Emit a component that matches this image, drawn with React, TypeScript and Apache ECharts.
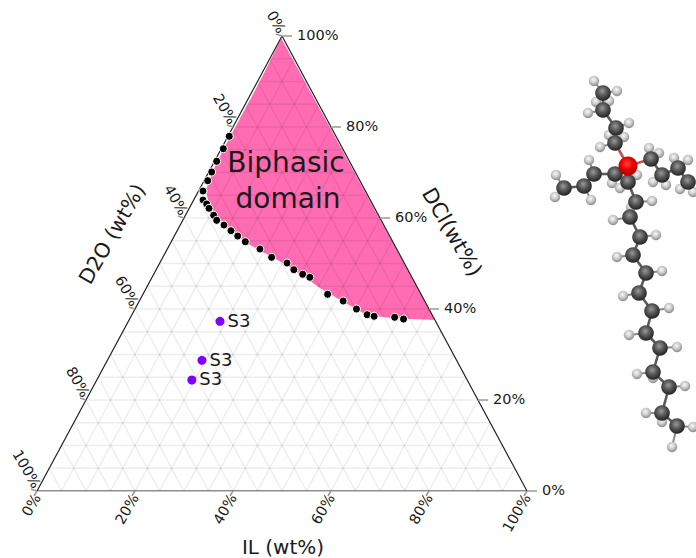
import React, { useEffect, useRef } from "react";
import * as echarts from "echarts";

// all ternary values in wt%: [IL, DCl]; D2O = 100 - IL - DCl
const binodalIL = [0.26, 0.41, 0.44, 0.6, 0.74, 0.91, 1.9, 3.09, 4.04, 5.77, 6.93, 8.93, 10.98, 12.94, 15.12, 18.9, 22.2, 25.97, 28.1, 30.4, 32.2, 37.7, 41.6, 45.2, 48, 49.6, 53.9, 55.9];
const binodalDCl = [77.96, 75.23, 72.46, 70.11, 68.2, 65.93, 63.96, 63.08, 62.13, 60.59, 59.49, 58.46, 57.21, 56.04, 54.79, 53.19, 51.36, 50.11, 48.64, 47.63, 46.97, 43.23, 41.76, 40, 38.75, 38.4, 38.18, 37.8];
const domainIL = [0.1, 0.4, 0.5, 0.5, 0.5, 0.7, 1.4, 3.17, 6.5, 15.6, 26.1, 36.3, 47.9, 53.7, 62.4];
const domainDCl = [99.5, 92.15, 87.03, 80.8, 74.95, 70.55, 66.15, 63.58, 60.29, 54.44, 49.67, 44.18, 38.68, 37.96, 37.58];
const sampleIL = [18.7, 19.3, 19.4];
const sampleDCl = [37.3, 28.73, 24.4];
const sampleNames = ["S3", "S3", "S3"];
const gridLevels = [5, 10, 15, 20, 25, 30, 35, 40, 45, 50, 55, 60, 65, 70, 75, 80, 85, 90, 95];
const tickLevels = [0, 20, 40, 60, 80, 100];

const FONT = "DejaVu Sans";
const INK = "#1a1a1a";
const toXY = (il: number, dcl: number) => [il + dcl / 2, dcl];

// molecule illustration (page pixels)
const C_ATOMS: number[][] = [
  [603, 93], [603, 110], [616, 128], [615, 143], [651, 159], [662, 175], [678, 168], [688, 182],
  [615, 174], [594, 174], [584, 186], [564, 188],
  [628, 182], [636, 202], [630, 217], [640, 237], [633, 255], [646, 273], [639, 293], [652, 311],
  [646, 333], [660, 348], [653, 372], [669, 387], [662, 413], [677, 426],
];
const H_ATOMS: number[][] = [
  [594, 81], [617, 91], [596, 102], [609, 101], [588, 113], [629, 123], [609, 135], [624, 137], [600, 147],
  [649, 148], [659, 153], [674, 158], [688, 160], [653, 182], [666, 185], [680, 189], [693, 192],
  [637, 175], [589, 160], [556, 175], [555, 197], [591, 200], [612, 183], [620, 188],
  [652, 201], [631, 207], [613, 220], [656, 235], [617, 257], [662, 271], [623, 296], [669, 308],
  [629, 335], [677, 347], [637, 374], [653, 378], [685, 386], [646, 413], [662, 422], [693, 427], [672, 447],
];
const P_ATOM = [628, 166];
const CHAINS: number[][][] = [
  [C_ATOMS[0], C_ATOMS[1], C_ATOMS[2], C_ATOMS[3], P_ATOM],
  [P_ATOM, C_ATOMS[4], C_ATOMS[5], C_ATOMS[6], C_ATOMS[7]],
  [P_ATOM, C_ATOMS[8], C_ATOMS[9], C_ATOMS[10], C_ATOMS[11]],
  [P_ATOM, ...C_ATOMS.slice(12)],
];

function moleculeElements() {
  const els: any[] = [];
  const bond = "#5a5a5a";
  H_ATOMS.forEach((h) => {
    let best = C_ATOMS[0];
    let bd = 1e9;
    C_ATOMS.forEach((c) => {
      const d = (c[0] - h[0]) ** 2 + (c[1] - h[1]) ** 2;
      if (d < bd) { bd = d; best = c; }
    });
    els.push({ type: "line", z: 10, shape: { x1: h[0], y1: h[1], x2: best[0], y2: best[1] }, style: { stroke: "#8a8a8a", lineWidth: 2 } });
  });
  CHAINS.forEach((ch) => {
    for (let i = 0; i < ch.length - 1; i++) {
      const red = ch[i] === P_ATOM || ch[i + 1] === P_ATOM;
      els.push({ type: "line", z: 10, shape: { x1: ch[i][0], y1: ch[i][1], x2: ch[i + 1][0], y2: ch[i + 1][1] }, style: { stroke: red ? "#c8504a" : bond, lineWidth: 2.6 } });
    }
  });
  const grad = (stops: string[]) => ({
    type: "radial", x: 0.45, y: 0.38, r: 0.62,
    colorStops: [{ offset: 0, color: stops[0] }, { offset: 0.5, color: stops[1] }, { offset: 1, color: stops[2] }],
  });
  H_ATOMS.forEach((a) => els.push({ type: "circle", z: 11, shape: { cx: a[0], cy: a[1], r: 5.2 }, style: { fill: grad(["#f8f8f8", "#cccccc", "#888888"]) } }));
  C_ATOMS.forEach((a) => els.push({ type: "circle", z: 12, shape: { cx: a[0], cy: a[1], r: 7.8 }, style: { fill: grad(["#999999", "#555555", "#222222"]) } }));
  els.push({ type: "circle", z: 13, shape: { cx: P_ATOM[0], cy: P_ATOM[1], r: 9.5 }, style: { fill: grad(["#ff4040", "#f00000", "#a00000"]) } });
  return els;
}

const rad = (d: number) => (d * Math.PI) / 180;

function App() {
  const ref = useRef<HTMLDivElement>(null);
  useEffect(() => {
    const chart = echarts.init(ref.current!, null, { renderer: "svg" });

    const gridData: number[][] = [];
    gridLevels.forEach((k) => {
      gridData.push([...toXY(0, k), ...toXY(100 - k, k)]);
      gridData.push([...toXY(k, 0), ...toXY(k, 100 - k)]);
      gridData.push([...toXY(100 - k, 0), ...toXY(0, 100 - k)]);
    });
    const frame = [toXY(0, 0), toXY(100, 0), toXY(0, 100), toXY(0, 0)];

    const lineItem = (params: any, api: any) => {
      const a = api.coord([api.value(0), api.value(1)]);
      const b = api.coord([api.value(2), api.value(3)]);
      return { type: "line", shape: { x1: a[0], y1: a[1], x2: b[0], y2: b[1] }, style: { stroke: "rgba(0,0,0,0.07)", lineWidth: 1.5 } };
    };

    const tickItem = (kind: string) => (params: any, api: any) => {
      const p = api.coord([api.value(0), api.value(1)]);
      const v = tickLevels[params.dataIndex];
      const d = kind === "dcl" ? [10, 0] : kind === "il" ? [-3, 5] : [-6, -2];
      const t = kind === "dcl" ? [15, -1] : kind === "il" ? [0, 4] : [0, -4];
      const rotation = kind === "dcl" ? 0 : kind === "il" ? rad(60) : rad(-60);
      return {
        type: "group",
        children: [
          { type: "line", shape: { x1: p[0], y1: p[1], x2: p[0] + d[0], y2: p[1] + d[1] }, style: { stroke: "#999", lineWidth: 1.5 } },
          {
            type: "text", x: p[0] + t[0], y: p[1] + t[1], rotation,
            style: { text: v + "%", fill: INK, font: `14.5px '${FONT}'`, align: kind === "dcl" ? "left" : "right", verticalAlign: "middle" },
          },
        ],
      };
    };

    chart.setOption({
      animation: false,
      backgroundColor: "#fff",
      grid: { left: 37, top: 36, width: 490, height: 455 },
      xAxis: { type: "value", min: 0, max: 100, show: false },
      yAxis: { type: "value", min: 0, max: 100, show: false },
      graphic: [
        ...moleculeElements(),
        { type: "text", z: 20, x: 286, y: 162, style: { text: "Biphasic", fill: INK, font: `28px '${FONT}'`, align: "center", verticalAlign: "middle" } },
        { type: "text", z: 20, x: 288, y: 198, style: { text: "domain", fill: INK, font: `28px '${FONT}'`, align: "center", verticalAlign: "middle" } },
        { type: "text", z: 20, x: 112, y: 234, rotation: rad(60), style: { text: "D2O (wt%)", fill: INK, font: `20.5px '${FONT}'`, align: "center", verticalAlign: "middle" } },
        { type: "text", z: 20, x: 452, y: 232, rotation: rad(-60), style: { text: "DCl(wt%)", fill: INK, font: `21px '${FONT}'`, align: "center", verticalAlign: "middle" } },
        { type: "text", z: 20, x: 283, y: 547, style: { text: "IL (wt%)", fill: INK, font: `20px '${FONT}'`, align: "center", verticalAlign: "middle" } },
      ],
      series: [
        {
          type: "custom", z: 1, silent: true,
          data: [domainIL.flatMap((il, i) => toXY(il, domainDCl[i]))],
          renderItem: (params: any, api: any) => {
            const pts = domainIL.map((il, i) => api.coord(toXY(il, domainDCl[i])));
            return { type: "polygon", shape: { points: pts }, style: { fill: "#ff6cb2" } };
          },
        },
        { type: "custom", z: 2, silent: true, data: gridData, renderItem: lineItem },
        { type: "line", z: 3, silent: true, data: frame, symbol: "none", lineStyle: { color: "#222", width: 1.2 } },
        { type: "custom", z: 4, silent: true, data: tickLevels.map((k) => toXY(100 - k, k)), renderItem: tickItem("dcl") },
        { type: "custom", z: 4, silent: true, data: tickLevels.map((k) => toXY(k, 0)), renderItem: tickItem("il") },
        { type: "custom", z: 4, silent: true, data: tickLevels.map((k) => toXY(0, 100 - k)), renderItem: tickItem("d2o") },
        {
          type: "scatter", z: 5, silent: true, clip: false, symbolSize: 8,
          data: binodalIL.map((il, i) => toXY(il, binodalDCl[i])),
          itemStyle: { color: "#000", borderColor: "#fff", borderWidth: 1, opacity: 1 },
        },
        {
          type: "scatter", z: 6, silent: true, clip: false, symbolSize: 9,
          data: sampleIL.map((il, i) => ({ value: toXY(il, sampleDCl[i]), name: sampleNames[i] })),
          itemStyle: { color: "#7f00ff", opacity: 1 },
          label: { show: true, position: "right", distance: 3, formatter: "{b}", color: INK, fontFamily: FONT, fontSize: 18, offset: [0, -1] },
        },
      ],
    });
    return () => chart.dispose();
  }, []);
  return <div ref={ref} style={{ position: "fixed", left: 0, top: 0, width: 696, height: 558 }} />;
}

export default App;
